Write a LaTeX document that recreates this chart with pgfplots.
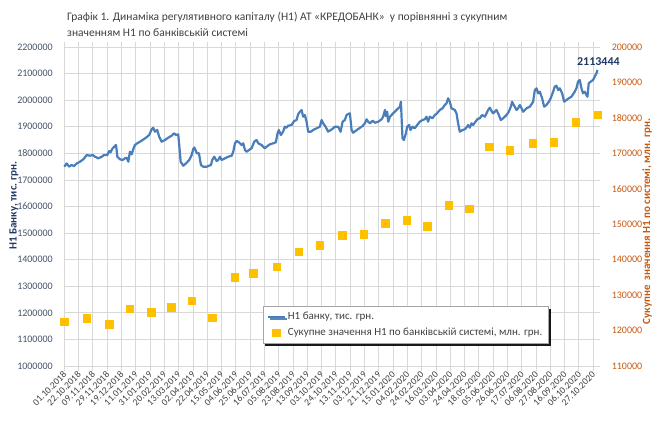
\documentclass[border=0pt]{standalone}
\usepackage{fontspec}
\setmainfont{Carlito}
\usepackage{pgfplots}
\pgfplotsset{compat=1.18}
\usetikzlibrary{shadows}
\definecolor{lineblue}{HTML}{4A7EBB}
\definecolor{gold}{HTML}{FFC000}
\definecolor{gridgray}{HTML}{D9D9D9}
\definecolor{ticknavy}{HTML}{44546A}
\definecolor{navy}{HTML}{1F3864}
\definecolor{brown}{HTML}{C55A11}
\definecolor{titlegray}{HTML}{404040}
\begin{document}
\begin{tikzpicture}[x=1pt,y=1pt]
\useasboundingbox (0,0) rectangle (656,421);
\node[anchor=base west, text=titlegray, font=\fontsize{11.5}{13}\selectfont, inner sep=0pt] at (67,400) {Графік 1. Динаміка регулятивного капіталу (Н1) АТ «КРЕДОБАНК»\ \ у порівнянні з сукупним};
\node[anchor=base west, text=titlegray, font=\fontsize{11.5}{13}\selectfont, inner sep=0pt] at (67,384) {значенням Н1 по банківській системі};
\node[rotate=90, text=navy, font=\bfseries\fontsize{11}{13}\selectfont] at (14,215.5) {Н1 Банку, тис. грн.};
\node[rotate=90, text=brown, font=\bfseries\fontsize{11}{13}\selectfont] at (647,199.5) {Сукупне\ \ значення Н1 по системі, млн. грн.};
\begin{axis}[
  at={(64.3pt,55pt)}, anchor=south west, scale only axis,
  width=536pt, height=319pt,
  xmin=0, xmax=37.5, ymin=1000000, ymax=2200000,
  /pgf/number format/assume math mode=true,
  /pgf/number format/fixed,
  /pgf/number format/set thousands separator={},
  xtick={0,...,37},
  xticklabels={01.10.2018,22.10.2018,09.11.2018,29.11.2018,19.12.2018,11.01.2019,31.01.2019,20.02.2019,13.03.2019,02.04.2019,22.04.2019,15.05.2019,04.06.2019,25.06.2019,16.07.2019,05.08.2019,23.08.2019,13.09.2019,03.10.2019,24.10.2019,13.11.2019,03.12.2019,21.12.2019,15.01.2020,04.02.2020,24.02.2020,16.03.2020,03.04.2020,24.04.2020,18.05.2020,05.06.2020,26.06.2020,17.07.2020,06.08.2020,27.08.2020,16.09.2020,06.10.2020,27.10.2020},
  x tick label style={rotate=45, anchor=east, font=\fontsize{9.5}{11}\selectfont, text=titlegray, inner sep=1pt, yshift=-2pt},
  ytick={1000000,1100000,...,2200000},
  scaled y ticks=false,
  yticklabel style={font=\fontsize{10}{12}\selectfont, text=ticknavy, xshift=-3pt},
  grid=major, major grid style={gridgray, line width=0.8pt},
  axis line style={draw=none},
  tick align=outside, major tick length=5pt,
  xtick style={gridgray, line width=0.8pt},
  ytick style={draw=none},
  clip=false,
]
\addplot[lineblue, line width=2.2pt, line join=round] coordinates {
(0,1750000)(0.17,1762000)(0.33,1750000)(0.52,1756000)(0.68,1752000)(0.87,1762000)(1.10,1768500)(1.33,1777500)(1.57,1793700)(1.80,1791000)(1.99,1793700)(2.15,1787300)(2.38,1781300)(2.62,1787300)(2.78,1793700)(3.01,1793700)(3.15,1808800)(3.24,1803900)(3.38,1818900)(3.62,1831300)(3.71,1787300)(3.90,1777500)(4.08,1774900)(4.24,1781300)(4.36,1783500)(4.48,1768500)(4.59,1806100)(4.71,1796300)(4.83,1816300)(4.94,1831300)(5.10,1837700)(5.29,1843700)(5.48,1850100)(5.71,1858800)(5.94,1868900)(6.11,1890400)(6.22,1896400)(6.34,1881400)(6.50,1887800)(6.64,1862500)(6.81,1843700)(7.04,1850100)(7.27,1858800)(7.51,1866300)(7.67,1875300)(7.81,1868900)(7.97,1871600)(8.04,1831300)(8.14,1768500)(8.32,1753400)(8.51,1762000)(8.74,1774900)(8.91,1793700)(9.02,1816300)(9.10,1821900)(9.28,1800100)(9.42,1800100)(9.56,1756100)(9.72,1749700)(9.96,1749700)(10.12,1753400)(10.26,1756100)(10.35,1774900)(10.49,1787300)(10.66,1771100)(10.77,1774900)(10.89,1787300)(11.01,1774900)(11.24,1781300)(11.47,1787300)(11.71,1791000)(11.82,1806100)(11.94,1837700)(12.06,1846400)(12.22,1841500)(12.41,1831300)(12.52,1837700)(12.64,1812500)(12.76,1806100)(12.92,1812500)(13.10,1818900)(13.29,1843700)(13.45,1850100)(13.57,1837700)(13.80,1831300)(14.03,1818900)(14.15,1824900)(14.38,1834000)(14.62,1837700)(14.80,1841500)(14.92,1875300)(15.01,1887800)(15.15,1868900)(15.31,1881400)(15.43,1900200)(15.55,1896400)(15.66,1903900)(15.90,1906600)(16.08,1921600)(16.25,1925400)(16.36,1946800)(16.48,1956600)(16.60,1963000)(16.71,1937800)(16.83,1944200)(16.95,1919000)(17.06,1881400)(17.25,1881400)(17.41,1887800)(17.65,1894100)(17.88,1900200)(18.00,1925400)(18.11,1913000)(18.28,1900200)(18.46,1881400)(18.65,1887800)(18.81,1894100)(18.93,1900200)(19.16,1900200)(19.33,1881400)(19.47,1919000)(19.63,1925400)(19.75,1944200)(19.86,1947900)(19.98,1950600)(20.10,1887800)(20.21,1877600)(20.40,1885100)(20.63,1894100)(20.87,1902800)(21.03,1913000)(21.15,1928000)(21.26,1919000)(21.38,1913000)(21.57,1922700)(21.73,1915200)(21.96,1919000)(22.20,1928000)(22.31,1937800)(22.43,1963000)(22.50,1940400)(22.59,1956600)(22.66,1919000)(22.78,1937800)(23.01,1950600)(23.24,1963000)(23.48,1975400)(23.55,1994200)(23.66,1856500)(23.76,1850100)(23.90,1875300)(23.99,1900200)(24.13,1906600)(24.22,1887800)(24.36,1900200)(24.52,1894100)(24.69,1906600)(24.87,1919000)(25.06,1925400)(25.22,1928000)(25.34,1937800)(25.45,1919000)(25.57,1937800)(25.76,1931800)(25.92,1944200)(26.08,1950600)(26.27,1963000)(26.46,1969400)(26.62,1981800)(26.74,1988200)(26.85,2007000)(26.97,1994200)(27.09,1969400)(27.32,1963000)(27.44,1950600)(27.55,1913000)(27.67,1881400)(27.86,1887800)(28.02,1890400)(28.18,1900200)(28.25,1906600)(28.37,1896400)(28.49,1913000)(28.60,1906600)(28.77,1919000)(28.91,1929100)(29.07,1931800)(29.23,1944200)(29.42,1937800)(29.54,1950600)(29.65,1963000)(29.77,1971600)(29.89,1959200)(30.00,1950600)(30.12,1956600)(30.24,1963000)(30.35,1950600)(30.54,1925400)(30.70,1931800)(30.94,1944200)(31.10,1956600)(31.24,1975400)(31.33,1994200)(31.47,1979200)(31.64,1963000)(31.75,1969400)(31.87,1981800)(31.99,1969400)(32.10,1956600)(32.34,1969400)(32.57,1975400)(32.80,1994200)(32.92,2038200)(33.04,2044600)(33.15,2025800)(33.27,2031800)(33.43,2007000)(33.57,1975400)(33.73,1981800)(33.90,1994200)(34.03,2007000)(34.20,2031800)(34.31,2050600)(34.43,2054400)(34.55,2038200)(34.66,2044600)(34.83,2025800)(34.97,1994200)(35.13,2000600)(35.29,2007000)(35.48,2013000)(35.71,2031800)(35.83,2044600)(35.94,2069500)(36.06,2075900)(36.18,2044600)(36.29,2025800)(36.41,2031800)(36.53,2019400)(36.60,2013000)(36.69,2063400)(36.83,2069500)(36.99,2075900)(37.11,2088300)(37.23,2101100)(37.30,2113444)
};
\node[anchor=south, text=navy, font=\bfseries\fontsize{12}{14}\selectfont, inner sep=1pt] at (axis cs:37.3,2113444) [yshift=3pt, xshift=1pt] {2113444};
\end{axis}
\begin{axis}[
  at={(64.3pt,55pt)}, anchor=south west, scale only axis,
  width=536pt, height=319pt,
  xmin=0, xmax=37.5, ymin=110000, ymax=200000,
  /pgf/number format/assume math mode=true,
  /pgf/number format/fixed,
  /pgf/number format/set thousands separator={},
  hide x axis,
  axis y line*=right,
  axis line style={draw=none},
  ytick={110000,120000,...,200000},
  scaled y ticks=false,
  yticklabel style={font=\fontsize{10}{12}\selectfont, text=brown, xshift=8pt},
  ytick style={draw=none},
  legend style={at={(0.37,0.188)}, anchor=north west, draw=gray!70, fill=white,
    drop shadow={shadow xshift=2.5pt, shadow yshift=-2.5pt, fill=black, opacity=0.9},
    font=\fontsize{11}{13}\selectfont, text=titlegray, row sep=3pt,
    inner xsep=4pt, inner ysep=4pt, cells={anchor=west}},
  legend cell align=left,
]
\addlegendimage{lineblue, line width=2pt}
\addlegendentry{Н1 банку, тис. грн.}
\addplot[only marks, mark=square*, mark size=3.7pt, color=gold] coordinates {
(0,122500)(1.57,123450)(3.15,121840)(4.59,126160)(6.07,125140)(7.49,126550)(8.92,128410)(10.36,123620)(11.94,135020)(13.21,136140)(14.86,138010)(16.38,142240)(17.85,144050)(19.43,146870)(20.95,147230)(22.45,150250)(23.95,151100)(25.40,149500)(26.90,155420)(28.34,154370)(29.72,171800)(31.15,170940)(32.78,172830)(34.22,173110)(35.78,178750)(37.30,180900)
};
\addlegendentry{Сукупне значення Н1 по банківській системі, млн. грн.}
\end{axis}
\end{tikzpicture}
\end{document}
